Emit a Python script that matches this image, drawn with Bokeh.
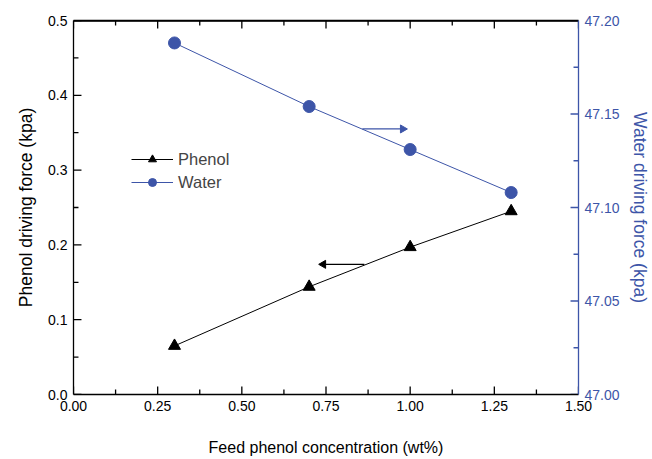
import math
from bokeh.plotting import figure
from bokeh.models import (LinearAxis, Range1d, SingleIntervalTicker, NumeralTickFormatter,
                          Legend, LegendItem)
from bokeh.embed import file_html
from bokeh.resources import INLINE

# Data
feed_conc = [0.3, 0.7, 1.0, 1.3]
phenol_force = [0.065, 0.144, 0.197, 0.245]
water_force = [47.188, 47.154, 47.131, 47.108]

# Axis limits and tick values
x_lim = [0.0, 1.5]
yl_lim = [0.0, 0.5]
yr_lim = [47.0, 47.2]
x_major = [0.0, 0.25, 0.5, 0.75, 1.0, 1.25, 1.5]
x_minor = [0.125, 0.375, 0.625, 0.875, 1.125, 1.375]
yl_major = [0.0, 0.1, 0.2, 0.3, 0.4, 0.5]
yl_minor = [0.05, 0.15, 0.25, 0.35, 0.45]
yr_major = [47.0, 47.05, 47.1, 47.15, 47.2]
yr_minor = [47.025, 47.075, 47.125, 47.175]

# Direction arrows (shaft start, shaft end / head position, level)
water_arrow = dict(x0=0.858, x1=0.978, y=47.142)
phenol_arrow = dict(x0=0.864, x1=0.742, y=0.174)

x_label = "Feed phenol concentration (wt%)"
y_left_label = "Phenol driving force (kpa)"
y_right_label = "Water driving force (kpa)"

BLUE = "#3D55A8"
FONT = "Liberation Sans"

FRAME_W, FRAME_H = 507, 374
MAJ, MIN = 8, 5  # tick lengths, px
dx = (x_lim[1] - x_lim[0]) / FRAME_W
dyl = (yl_lim[1] - yl_lim[0]) / FRAME_H
dyr = (yr_lim[1] - yr_lim[0]) / FRAME_H

p = figure(width=652, height=459, output_backend="svg", toolbar_location=None,
           x_range=Range1d(*x_lim), y_range=Range1d(*yl_lim),
           min_border_left=73, min_border_right=72, min_border_top=20, min_border_bottom=65)
p.extra_y_ranges = {"water": Range1d(*yr_lim)}
p.xgrid.grid_line_color = None
p.ygrid.grid_line_color = None
p.outline_line_color = None


def style(ax, color="black"):
    ax.axis_line_color = color
    ax.axis_line_width = 1.3
    ax.major_tick_line_color = None
    ax.minor_tick_line_color = None
    ax.major_tick_in = 0
    ax.major_tick_out = 0
    ax.minor_tick_in = 0
    ax.minor_tick_out = 0
    ax.major_label_text_font = FONT
    ax.major_label_text_font_size = "14px"
    ax.major_label_text_color = color
    ax.axis_label_text_font = FONT
    ax.axis_label_text_font_size = "17.5px"
    ax.axis_label_text_font_style = "normal"
    ax.axis_label_text_color = color


xb = p.xaxis[0]
xb.ticker = SingleIntervalTicker(interval=0.25, num_minor_ticks=2)
xb.formatter = NumeralTickFormatter(format="0.00")
xb.axis_label = x_label
style(xb)
xb.axis_label_text_font_size = "16px"
xb.major_label_standoff = 6
xb.axis_label_standoff = 25

yl = p.yaxis[0]
yl.ticker = SingleIntervalTicker(interval=0.1, num_minor_ticks=2)
yl.formatter = NumeralTickFormatter(format="0.0")
yl.axis_label = y_left_label
style(yl)
yl.major_label_standoff = 6
yl.axis_label_standoff = 9

xt = LinearAxis(ticker=SingleIntervalTicker(interval=0.25, num_minor_ticks=2))
style(xt)
xt.major_label_text_color = None
xt.major_label_standoff = 0
p.add_layout(xt, "above")

yr = LinearAxis(y_range_name="water", ticker=SingleIntervalTicker(interval=0.05, num_minor_ticks=2),
                formatter=NumeralTickFormatter(format="0.00"), axis_label=y_right_label)
style(yr, BLUE)
yr.major_label_standoff = 6
yr.axis_label_standoff = 7
p.add_layout(yr, "right")

# inward tick marks as short segments (lengths converted from px to data units)
TW = 1.3
for xs, L in ((x_major, MAJ), (x_minor, MIN)):
    n = len(xs)
    p.segment(x0=xs, y0=[yl_lim[0]] * n, x1=xs, y1=[yl_lim[0] + L * dyl] * n,
              line_color="black", line_width=TW)
    p.segment(x0=xs, y0=[yl_lim[1]] * n, x1=xs, y1=[yl_lim[1] - L * dyl] * n,
              line_color="black", line_width=TW)
for ys, L in ((yl_major, MAJ), (yl_minor, MIN)):
    n = len(ys)
    p.segment(x0=[x_lim[0]] * n, y0=ys, x1=[x_lim[0] + L * dx] * n, y1=ys,
              line_color="black", line_width=TW)
for ys, L in ((yr_major, MAJ), (yr_minor, MIN)):
    n = len(ys)
    p.segment(x0=[x_lim[1]] * n, y0=ys, x1=[x_lim[1] - L * dx] * n, y1=ys,
              y_range_name="water", line_color=BLUE, line_width=TW)
# top frame line
p.segment(x0=[x_lim[0]], y0=[yl_lim[1] - 0.5 * dyl], x1=[x_lim[1]], y1=[yl_lim[1] - 0.5 * dyl],
          line_color="black", line_width=1.3)

l1 = p.line(feed_conc, phenol_force, line_color="black", line_width=1)
s1 = p.scatter(feed_conc, phenol_force, marker="triangle", size=12, fill_color="black", line_color="black")
l2 = p.line(feed_conc, water_force, y_range_name="water", line_color=BLUE, line_width=1)
s2 = p.scatter(feed_conc, water_force, y_range_name="water", marker="circle", size=12,
               fill_color=BLUE, line_color=BLUE)

# direction arrows drawn as shaft segment + triangular head
p.segment(x0=[water_arrow["x0"]], y0=[water_arrow["y"]], x1=[water_arrow["x1"]], y1=[water_arrow["y"]],
          y_range_name="water", line_color=BLUE, line_width=1.2)
p.scatter([water_arrow["x1"]], [water_arrow["y"]], y_range_name="water", marker="triangle",
          size=8, angle=-math.pi / 2, fill_color=BLUE, line_color=BLUE)
p.segment(x0=[phenol_arrow["x0"]], y0=[phenol_arrow["y"]], x1=[phenol_arrow["x1"]], y1=[phenol_arrow["y"]],
          line_color="black", line_width=1.2)
p.scatter([phenol_arrow["x1"]], [phenol_arrow["y"]], marker="triangle",
          size=8, angle=math.pi / 2, fill_color="black", line_color="black")

legend = Legend(items=[LegendItem(label="Phenol", renderers=[l1, s1]),
                       LegendItem(label="Water", renderers=[l2, s2])],
                location=(58, 202), glyph_width=42, glyph_height=20, label_height=20,
                spacing=3, padding=0, margin=0, label_standoff=5,
                label_text_font=FONT, label_text_font_size="16.5px",
                background_fill_alpha=0, border_line_color=None)
p.add_layout(legend)

open("out.html", "w").write(file_html(p, INLINE))
